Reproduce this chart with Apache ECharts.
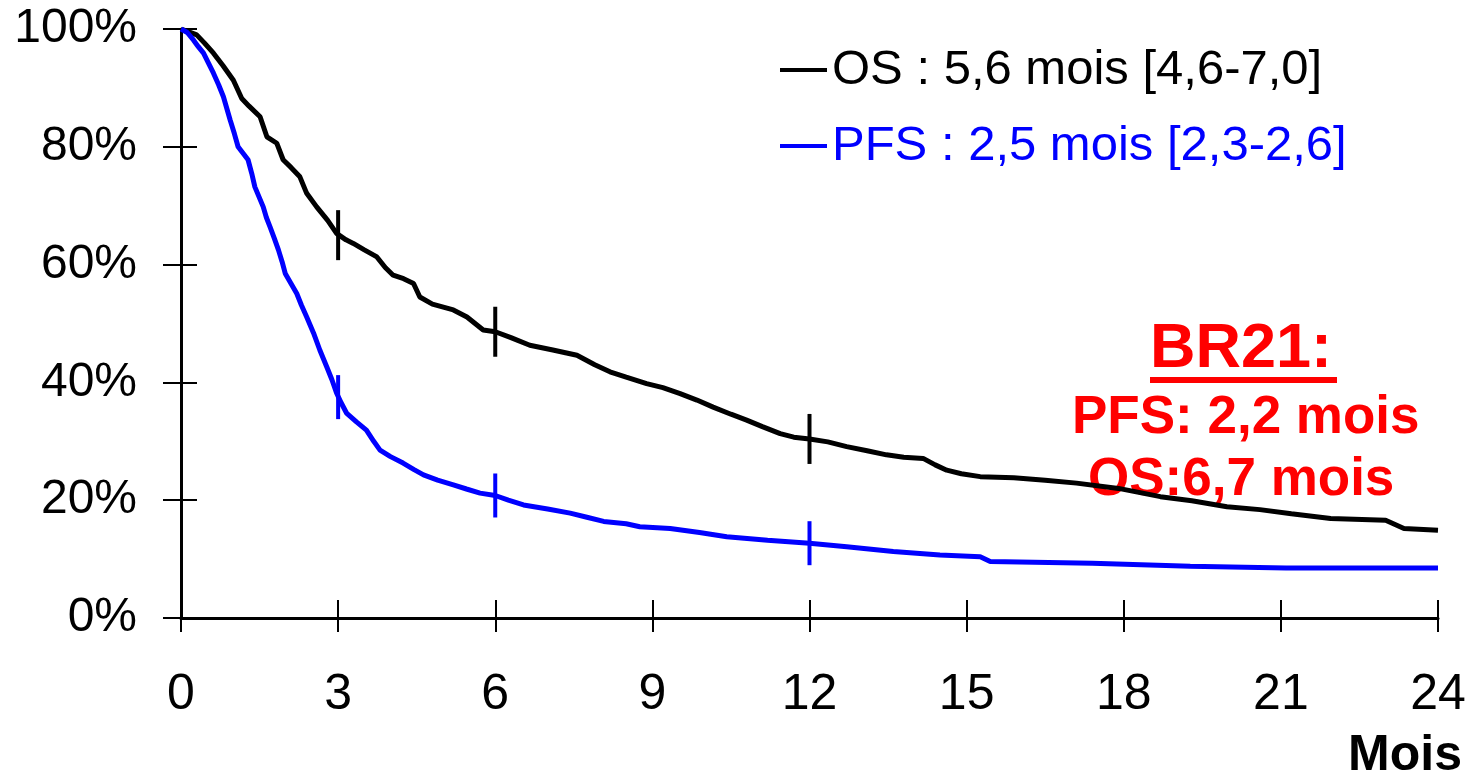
<!DOCTYPE html>
<html>
<head>
<meta charset="utf-8">
<script src="https://cdn.jsdelivr.net/npm/echarts@6/dist/echarts.min.js"></script>
<style>
  html, body { margin: 0; padding: 0; background: #fff; }
  #chart { width: 1472px; height: 777px; }
</style>
</head>
<body>
<div id="chart"></div>
<script>
// courbes de survie (mois, %)
const osCurve = [
  [0, 100], [0.15, 99.5], [0.3, 99.0], [0.45, 97.6], [0.62, 95.9], [0.8, 93.8],
  [1.0, 91.3], [1.16, 88.2], [1.3, 86.9], [1.51, 85.1], [1.64, 81.7], [1.83, 80.6],
  [1.95, 77.8], [2.1, 76.5], [2.27, 74.9], [2.4, 72.1], [2.59, 69.8], [2.8, 67.5],
  [2.97, 65.3], [3.15, 64.2], [3.29, 63.6], [3.5, 62.5], [3.74, 61.3], [3.9, 59.5],
  [4.05, 58.2], [4.25, 57.6], [4.44, 56.8], [4.56, 54.5], [4.8, 53.3], [5.2, 52.3],
  [5.46, 51.1], [5.77, 48.9], [6.0, 48.6], [6.3, 47.6], [6.66, 46.3], [7.1, 45.5],
  [7.56, 44.6], [7.9, 43.0], [8.19, 41.8], [8.5, 40.9], [8.89, 39.8], [9.2, 39.1],
  [9.53, 38.1], [9.85, 37.0], [10.16, 35.8], [10.5, 34.6], [10.8, 33.6], [11.1, 32.5],
  [11.44, 31.3], [11.7, 30.7], [12.0, 30.4], [12.35, 29.9], [12.71, 29.1], [13.1, 28.4],
  [13.47, 27.7], [13.8, 27.3], [14.17, 27.1], [14.4, 26.0], [14.62, 25.1], [14.9, 24.5],
  [15.26, 24.0], [15.9, 23.8], [16.5, 23.4], [17.1, 22.9], [17.9, 22.0], [18.7, 20.6],
  [19.3, 19.9], [19.97, 18.9], [20.6, 18.4], [21.2, 17.7], [21.95, 16.9], [23.0, 16.6],
  [23.35, 15.2], [24, 14.9]
]
const pfsCurve = [
  [0, 100], [0.12, 99.4], [0.24, 98.1], [0.33, 97.0], [0.43, 95.9], [0.52, 94.3],
  [0.62, 92.5], [0.72, 90.5], [0.81, 88.5], [0.94, 84.5], [1.02, 82.2], [1.09, 80.0],
  [1.28, 77.8], [1.35, 75.5], [1.41, 73.2], [1.57, 69.8], [1.63, 68.0], [1.7, 66.4],
  [1.78, 64.5], [1.86, 62.5], [1.93, 60.5], [1.99, 58.5], [2.1, 56.8], [2.21, 55.1],
  [2.3, 53.1], [2.4, 51.1], [2.53, 48.4], [2.65, 45.5], [2.78, 42.7], [2.88, 40.5],
  [2.97, 38.2], [3.06, 36.5], [3.16, 34.8], [3.35, 33.3], [3.54, 31.9], [3.68, 30.0],
  [3.8, 28.5], [4.0, 27.4], [4.24, 26.3], [4.45, 25.2], [4.63, 24.3], [4.9, 23.4],
  [5.2, 22.6], [5.45, 21.9], [5.71, 21.2], [6.0, 20.8], [6.25, 20.0], [6.54, 19.2],
  [7.0, 18.5], [7.43, 17.8], [7.75, 17.1], [8.07, 16.4], [8.5, 16.0], [8.76, 15.5],
  [9.34, 15.2], [9.9, 14.5], [10.42, 13.8], [11.2, 13.2], [12.0, 12.7], [12.71, 12.1],
  [13.6, 11.3], [14.49, 10.7], [15.26, 10.4], [15.45, 9.6], [17.4, 9.3], [19.27, 8.8],
  [21.1, 8.5], [24, 8.5]
]
// repères à 3, 6 et 12 mois
const osMarks = [[3, 65.0], [6, 48.6], [12, 30.4]]
const pfsMarks = [[3, 37.5], [6, 20.8], [12, 12.7]]

const osName = 'OS : 5,6 mois [4,6-7,0]'
const pfsName = 'PFS : 2,5 mois [2,3-2,6]'
const xTicks = [0, 3, 6, 9, 12, 15, 18, 21, 24]
const yTicks = [0, 20, 40, 60, 80, 100]

const font = '"Liberation Sans", Arial, sans-serif'
const blue = '#0000ff'
const red = '#ff0000'

const chart = echarts.init(document.getElementById('chart'))

const axisBase = {
  splitLine: { show: false }
}

chart.setOption({
  animation: false,
  backgroundColor: '#fff',
  grid: { left: 181, right: 34, top: 29, bottom: 159 },
  legend: {
    orient: 'vertical',
    left: 775,
    top: 39,
    itemWidth: 47,
    itemHeight: 4,
    itemGap: 24,
    icon: 'rect',
    selectedMode: false,
    textStyle: { fontFamily: font, fontSize: 49, lineHeight: 52 },
    data: [
      { name: osName, textStyle: { color: '#000' } },
      { name: pfsName, textStyle: { color: blue } }
    ]
  },
  xAxis: [
    {
      ...axisBase,
      type: 'value',
      min: xTicks[0],
      max: xTicks[xTicks.length - 1],
      interval: 3,
      axisLine: { lineStyle: { color: '#000', width: 3 } },
      axisTick: { length: 14, lineStyle: { color: '#000', width: 2 } },
      axisLabel: { color: '#000', fontFamily: font, fontSize: 50, margin: 52 }
    },
    {
      ...axisBase,
      type: 'value',
      min: xTicks[0],
      max: xTicks[xTicks.length - 1],
      interval: 3,
      position: 'bottom',
      axisLine: { show: false },
      axisTick: { inside: true, length: 18, lineStyle: { color: '#000', width: 2 } },
      axisLabel: { show: false }
    }
  ],
  yAxis: [
    {
      ...axisBase,
      type: 'value',
      min: yTicks[0],
      max: yTicks[yTicks.length - 1],
      interval: 20,
      axisLine: { show: true, lineStyle: { color: '#000', width: 3 } },
      axisTick: { show: true, length: 18, lineStyle: { color: '#000', width: 2 } },
      axisLabel: { color: '#000', fontFamily: font, fontSize: 48, margin: 44, formatter: '{value}%' }
    },
    {
      ...axisBase,
      type: 'value',
      min: yTicks[0],
      max: yTicks[yTicks.length - 1],
      interval: 20,
      position: 'left',
      axisLine: { show: false },
      axisTick: { show: true, inside: true, length: 16, lineStyle: { color: '#000', width: 2 } },
      axisLabel: { show: false }
    }
  ],
  series: [
    {
      name: osName,
      type: 'line',
      showSymbol: false,
      symbol: 'none',
      color: '#000',
      lineStyle: { color: '#000', width: 5 },
      data: osCurve,
      z: 3
    },
    {
      name: pfsName,
      type: 'line',
      showSymbol: false,
      symbol: 'none',
      color: blue,
      lineStyle: { color: blue, width: 5 },
      data: pfsCurve,
      z: 4
    },
    {
      name: 'os-censure',
      type: 'scatter',
      symbol: 'rect',
      symbolSize: [4, 50],
      itemStyle: { color: '#000', opacity: 1 },
      data: osMarks,
      z: 5
    },
    {
      name: 'pfs-censure',
      type: 'scatter',
      symbol: 'rect',
      symbolSize: [4, 44],
      itemStyle: { color: blue, opacity: 1 },
      data: pfsMarks,
      z: 5
    }
  ],
  graphic: [
    {
      type: 'text',
      left: 1150, top: 318,
      style: { text: 'BR21:', fill: red, font: 'bold 63px ' + font }
    },
    {
      type: 'rect',
      shape: { x: 1150, y: 377, width: 187, height: 6 },
      style: { fill: red }
    },
    {
      type: 'text',
      left: 1072, top: 392,
      style: { text: 'PFS: 2,2 mois', fill: red, font: 'bold 53px ' + font }
    },
    {
      type: 'text',
      left: 1088, top: 454,
      style: { text: 'OS:6,7 mois', fill: red, font: 'bold 53px ' + font }
    },
    {
      type: 'text',
      right: 10, top: 731,
      style: { text: 'Mois', fill: '#000', font: 'bold 50px ' + font }
    }
  ]
})
</script>
</body>
</html>
